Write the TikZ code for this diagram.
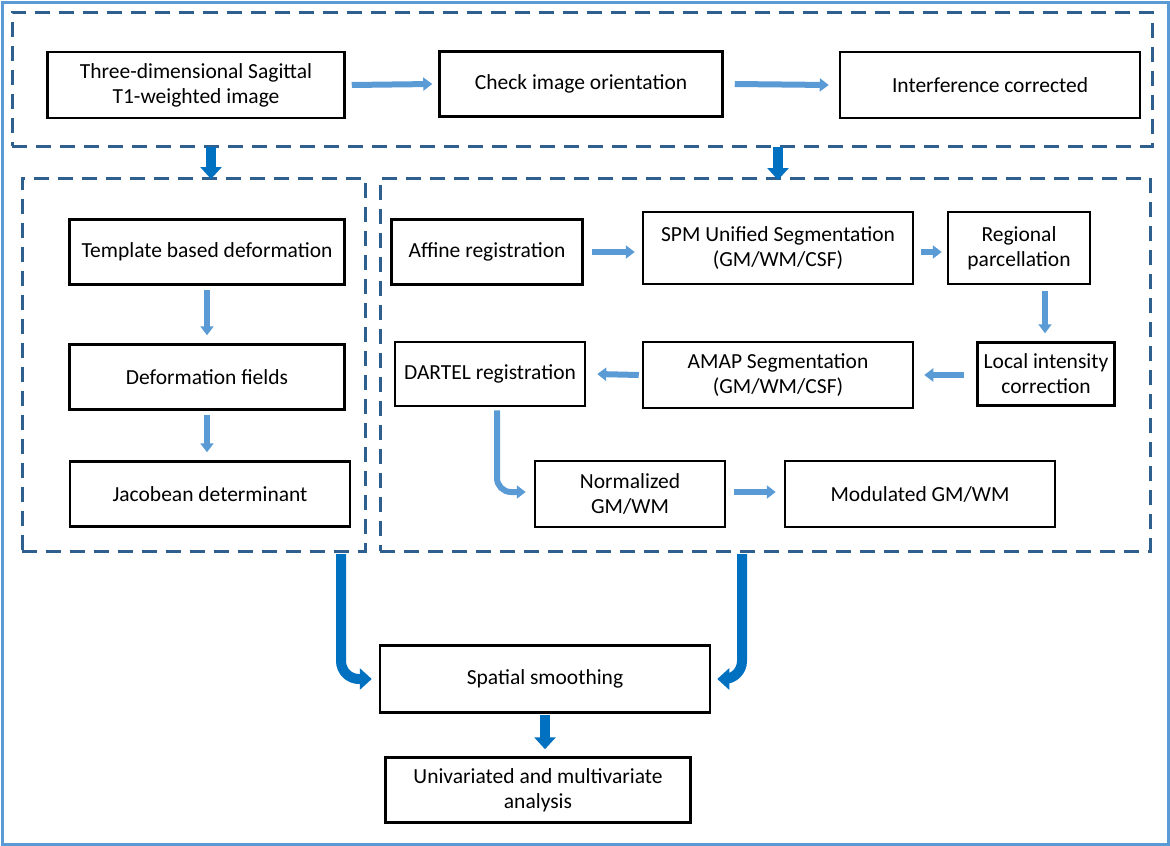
\documentclass[tikz,border=0pt]{standalone}
\usepackage{fontspec}
\setmainfont{Carlito}
\usetikzlibrary{arrows.meta,calc}
\definecolor{lb}{HTML}{5B9BD5}
\definecolor{db}{HTML}{2F5F8F}
\definecolor{tb}{HTML}{0070C0}
\begin{document}
\begin{tikzpicture}[x=1pt,y=-1pt,
 box/.style={draw=black,line width=2.5pt,align=center,inner sep=0pt,font=\fontsize{21.5}{25}\selectfont},
 grp/.style={draw=db,line width=3pt,dash pattern=on 15pt off 9pt,inner sep=0pt},
 thin/.style={lb,line width=6pt,-{Triangle[length=9pt,width=13pt]}},
 thick/.style={tb,line width=10pt,-{Triangle[length=12pt,width=21pt]},rounded corners=18pt}]
\useasboundingbox (0,0) rectangle (1170,846);
\draw[lb,line width=3pt] (2,2) rectangle (1168,844);
\newcommand\bx[6]{\node[#1,minimum width=#4-#2,minimum height=#5-#3] (#6) at ({(#2+#4)/2},{(#3+#5)/2}) {};}
\bx{grp}{12}{12}{1152}{146}{G1}
\bx{grp}{22}{178}{365}{551}{G2}
\bx{grp}{380}{178}{1150}{551}{G3}
\node[box,minimum width=297,minimum height=66] (t1) at (196,85) {Three-dimensional Sagittal\\T1-weighted image};
\node[box,minimum width=283,minimum height=65] (ck) at (581,84) {Check image orientation};
\node[box,minimum width=300,minimum height=66] (ic) at (990,85) {Interference corrected};
\node[box,minimum width=275,minimum height=65] (tp) at (207,252) {Template based deformation};
\node[box,minimum width=275,minimum height=65] (df) at (207,377) {Deformation fields};
\node[box,minimum width=280,minimum height=65] (jc) at (210,494) {Jacobean determinant};
\node[box,minimum width=191,minimum height=65] (af) at (487,252) {Affine registration};
\node[box,minimum width=270,minimum height=72] (sp) at (778,248) {SPM Unified Segmentation\\(GM/WM/CSF)};
\node[box,minimum width=142,minimum height=72] (rg) at (1019,248) {Regional\\parcellation};
\node[box,minimum width=137,minimum height=63] (lc) at (1046,374) {Local intensity\\correction};
\node[box,minimum width=270,minimum height=66] (am) at (778,375) {AMAP Segmentation\\(GM/WM/CSF)};
\node[box,minimum width=190,minimum height=64] (dt) at (490,374) {DARTEL registration};
\node[box,minimum width=190,minimum height=66] (nm) at (630,494) {Normalized\\GM/WM};
\node[box,minimum width=270,minimum height=66] (md) at (920,494) {Modulated GM/WM};
\node[box,minimum width=330,minimum height=67] (ss) at (545,679) {Spatial smoothing};
\node[box,minimum width=305,minimum height=65] (uv) at (538,790) {Univariated and multivariate\\analysis};
\draw[thin] ($(t1.east)+(6,0)$) -- ($(ck.west)+(-6,0)$);
\draw[thin] ($(ck.east)+(11,0)$) -- ($(ic.west)+(-10,0)$);
\draw[thin] ($(tp.south)+(0,4)$) -- ($(df.north)+(0,-8)$);
\draw[thin] ($(df.south)+(0,4)$) -- ($(jc.north)+(-3,-8)$);
\draw[thin] ($(af.east)+(8,0)$) -- ($(sp.west)+(-7,4)$);
\draw[thin] ($(sp.east)+(7,4)$) -- ($(rg.west)+(-5,4)$);
\draw[thin] ($(rg.south)+(26,6)$) -- ($(lc.north)+(-1,-8)$);
\draw[thin] ($(lc.west)+(-12,1)$) -- ($(am.east)+(10,0)$);
\draw[thin] ($(am.west)+(-3,0)$) -- ($(dt.east)+(11,0)$);
\draw[thin,rounded corners=14pt] ($(dt.south)+(7,3)$) |- ($(nm.west)+(-8,-2)$);
\draw[thin] ($(nm.east)+(8,-2)$) -- ($(md.west)+(-8,-2)$);
\draw[thick] (211,147) -- (211,179);
\draw[thick] (778,147) -- (778,180);
\draw[thick] (341,554) |- ($(ss.west)+(-7,0)$);
\draw[thick] (742,554) |- ($(ss.east)+(6,0)$);
\draw[thick] ($(ss.south)+(0,1)$) -- ($(uv.north)+(7,-7)$);
\end{tikzpicture}
\end{document}
